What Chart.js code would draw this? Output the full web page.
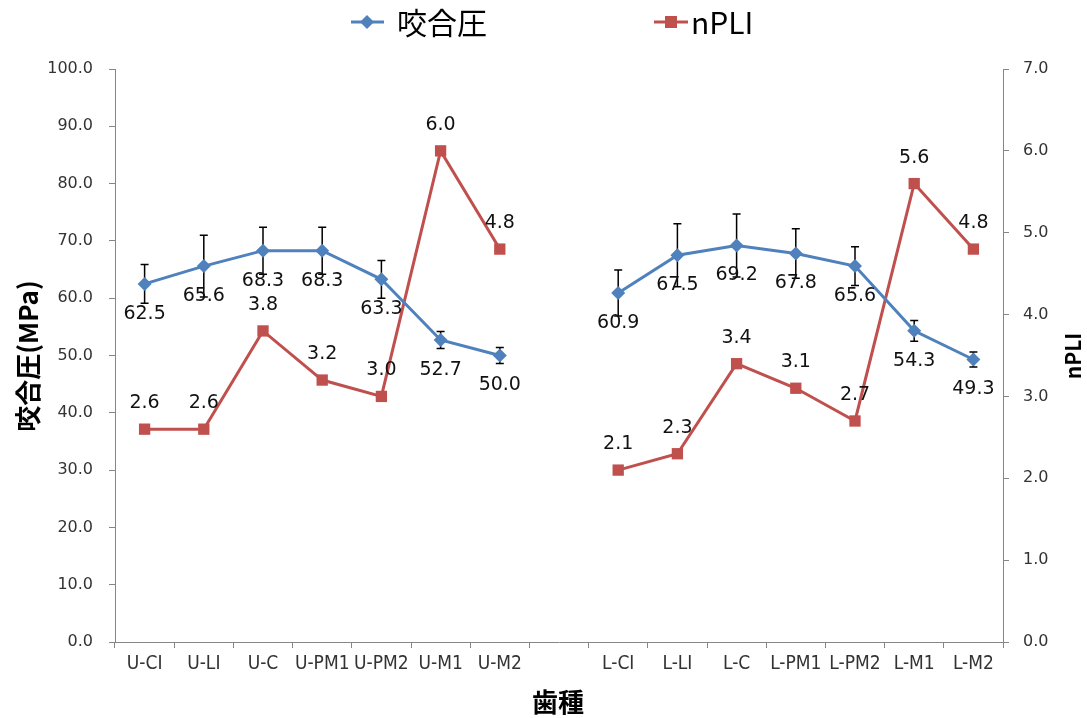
<!DOCTYPE html>
<html lang="ja">
<head>
    <meta charset="UTF-8">
    <title>咬合圧 と nPLI</title>
    <script src="https://cdn.jsdelivr.net/npm/chart.js"></script>
    <style>
        body { margin: 0; background: #fff; }
    </style>
</head>
<body>
    <canvas id="chart" width="1087" height="718"></canvas>
    <script>
        // 歯種 (空欄は上下顎の区切り)
        const teeth = ["U-CI", "U-LI", "U-C", "U-PM1", "U-PM2", "U-M1", "U-M2", "",
                       "L-CI", "L-LI", "L-C", "L-PM1", "L-PM2", "L-M1", "L-M2"];
        // 咬合圧 (MPa) と標準誤差
        const bitePressure = [62.5, 65.6, 68.3, 68.3, 63.3, 52.7, 50.0, null,
                              60.9, 67.5, 69.2, 67.8, 65.6, 54.3, 49.3];
        const biteError = [3.4, 5.4, 4.1, 4.1, 3.3, 1.5, 1.4, null,
                           4.0, 5.5, 5.5, 4.3, 3.4, 1.8, 1.3];
        // nPLI
        const npli = [2.6, 2.6, 3.8, 3.2, 3.0, 6.0, 4.8, null,
                      2.1, 2.3, 3.4, 3.1, 2.7, 5.6, 4.8];

        const BLUE = "#4F81BD";
        const RED = "#C0504D";
        const AXIS = "#868686";
        const CJK = "'Noto Sans CJK JP', 'Noto Sans', sans-serif";

        // エラーバー
        const errorBars = {
            id: "errorBars",
            beforeDatasetsDraw(chart) {
                const ctx = chart.ctx;
                const y = chart.scales.y;
                const meta = chart.getDatasetMeta(0);
                ctx.save();
                ctx.strokeStyle = "#000";
                ctx.lineWidth = 1.5;
                bitePressure.forEach((v, i) => {
                    if (v == null || biteError[i] == null) return;
                    const x = meta.data[i].x;
                    const top = y.getPixelForValue(v + biteError[i]);
                    const bot = y.getPixelForValue(v - biteError[i]);
                    ctx.beginPath();
                    ctx.moveTo(x, top); ctx.lineTo(x, bot);
                    ctx.moveTo(x - 4, top); ctx.lineTo(x + 4, top);
                    ctx.moveTo(x - 4, bot); ctx.lineTo(x + 4, bot);
                    ctx.stroke();
                });
                ctx.restore();
            }
        };

        // データラベル
        const dataLabels = {
            id: "dataLabels",
            afterDatasetsDraw(chart) {
                const ctx = chart.ctx;
                ctx.save();
                ctx.font = "19px 'DejaVu Sans'";
                ctx.fillStyle = "#111";
                ctx.textAlign = "center";
                ctx.textBaseline = "middle";
                chart.data.datasets.forEach((ds, d) => {
                    const meta = chart.getDatasetMeta(d);
                    ds.data.forEach((v, i) => {
                        if (v == null) return;
                        const p = meta.data[i];
                        const dy = d === 0 ? 30 : -26;
                        ctx.fillText(v.toFixed(1), p.x, p.y + dy);
                    });
                });
                ctx.restore();
            }
        };

        // 凡例と軸タイトル
        const extras = {
            id: "extras",
            afterDraw(chart) {
                const ctx = chart.ctx;
                ctx.save();
                // 凡例
                const ly = 22;
                ctx.lineWidth = 3;
                ctx.strokeStyle = BLUE;
                ctx.beginPath(); ctx.moveTo(351, ly); ctx.lineTo(384, ly); ctx.stroke();
                ctx.fillStyle = BLUE;
                ctx.beginPath();
                ctx.moveTo(367, ly - 7); ctx.lineTo(374, ly); ctx.lineTo(367, ly + 7); ctx.lineTo(360, ly);
                ctx.closePath(); ctx.fill();
                ctx.strokeStyle = RED;
                ctx.beginPath(); ctx.moveTo(654, ly); ctx.lineTo(688, ly); ctx.stroke();
                ctx.fillStyle = RED;
                ctx.fillRect(665, ly - 6, 12, 12);
                ctx.fillStyle = "#000";
                ctx.font = "30px " + CJK;
                ctx.textBaseline = "middle";
                ctx.textAlign = "left";
                ctx.fillText("咬合圧", 397, ly + 1);
                ctx.fillText("nPLI", 691, ly + 1);

                // 軸タイトル
                ctx.font = "bold 26px " + CJK;
                ctx.textAlign = "center";
                ctx.save();
                ctx.translate(28, 356);
                ctx.rotate(-Math.PI / 2);
                ctx.fillText("咬合圧(MPa)", 0, 0);
                ctx.restore();

                ctx.save();
                ctx.font = "bold 21px " + CJK;
                ctx.translate(1073, 356);
                ctx.rotate(-Math.PI / 2);
                ctx.fillText("nPLI", 0, 0);
                ctx.restore();

                ctx.font = "bold 26px " + CJK;
                ctx.fillText("歯種", 558, 702);
                ctx.restore();
            }
        };

        const tickFont = { family: "'DejaVu Sans'", size: 16 };

        new Chart(document.getElementById("chart"), {
            type: "line",
            data: {
                labels: teeth,
                datasets: [{
                    label: "咬合圧",
                    data: bitePressure,
                    yAxisID: "y",
                    borderColor: BLUE,
                    backgroundColor: BLUE,
                    borderWidth: 3,
                    pointStyle: "rectRot",
                    pointRadius: 7,
                    pointBorderWidth: 0,
                    tension: 0
                }, {
                    label: "nPLI",
                    data: npli,
                    yAxisID: "y1",
                    borderColor: RED,
                    backgroundColor: RED,
                    borderWidth: 3,
                    pointStyle: "rect",
                    pointRadius: 8,
                    pointBorderWidth: 0,
                    tension: 0
                }]
            },
            options: {
                responsive: false,
                animation: false,
                layout: { padding: { top: 69, left: 0, right: 0, bottom: 0 } },
                plugins: {
                    legend: { display: false },
                    tooltip: { enabled: false }
                },
                scales: {
                    x: {
                        offset: true,
                        grid: { offset: true, drawOnChartArea: false, tickLength: 6, color: AXIS },
                        border: { color: AXIS, width: 1 },
                        ticks: {
                            autoSkip: false, maxRotation: 0, padding: 5, color: "#333",
                            font: { family: "'Liberation Sans Narrow', 'DejaVu Sans Condensed', sans-serif", size: 19 }
                        },
                        afterFit(s) { s.height = 76; }
                    },
                    y: {
                        position: "left",
                        min: 0, max: 100,
                        grid: { drawOnChartArea: false, tickLength: 6, color: AXIS },
                        border: { color: AXIS, width: 1 },
                        ticks: {
                            stepSize: 10, padding: 16, color: "#333", font: tickFont,
                            callback: v => v.toFixed(1)
                        },
                        afterFit(s) { s.width = 115; }
                    },
                    y1: {
                        position: "right",
                        min: 0, max: 7,
                        grid: { drawOnChartArea: false, tickLength: 6, color: AXIS },
                        border: { color: AXIS, width: 1 },
                        ticks: {
                            stepSize: 1, padding: 14, color: "#333", font: tickFont,
                            callback: v => v.toFixed(1)
                        },
                        afterFit(s) { s.width = 84; }
                    }
                }
            },
            plugins: [errorBars, dataLabels, extras]
        });
    </script>
</body>
</html>
